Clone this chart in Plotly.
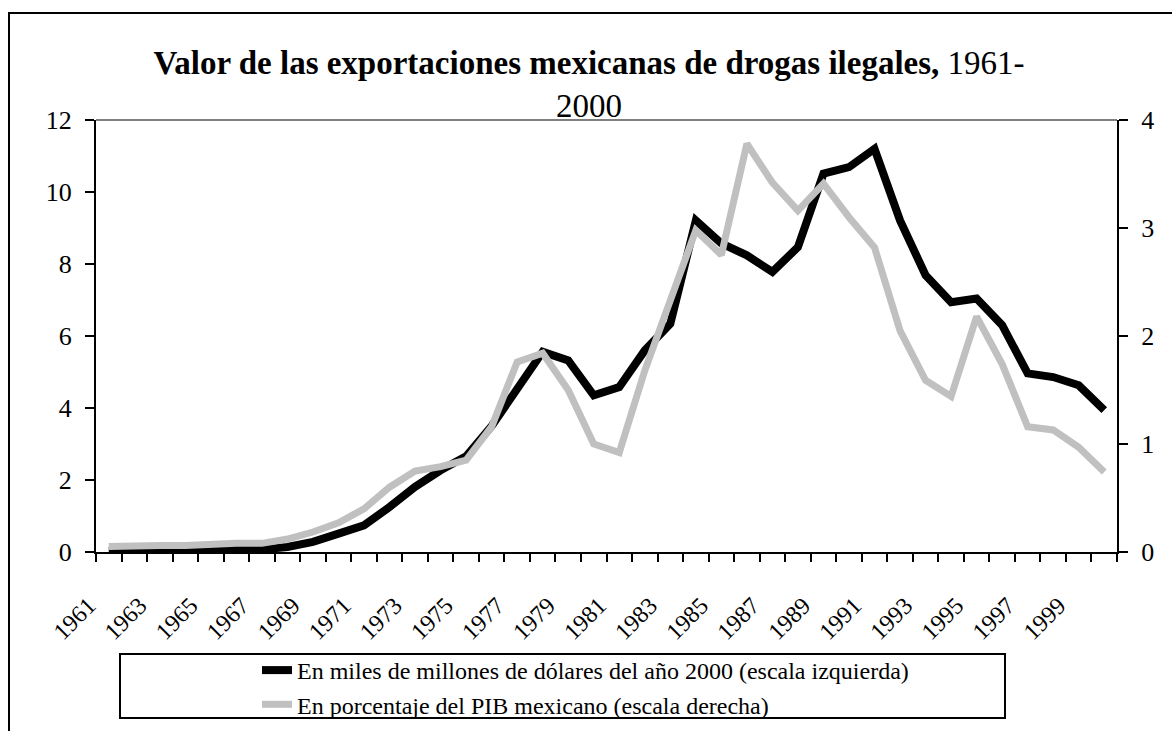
import plotly.graph_objects as go

# ---------------- data ----------------
years = list(range(1961, 2001))
valor_usd = [0.03, 0.04, 0.04, 0.04, 0.05, 0.06, 0.07, 0.14, 0.28, 0.51,
             0.74, 1.25, 1.81, 2.27, 2.66, 3.50, 4.58, 5.56, 5.32, 4.35,
             4.58, 5.60, 6.34, 9.21, 8.57, 8.24, 7.78, 8.47, 10.51, 10.69,
             11.20, 9.21, 7.69, 6.94, 7.04, 6.30, 4.96, 4.86, 4.63, 3.94]
pct_pib = [0.05, 0.06, 0.06, 0.06, 0.075, 0.08, 0.08, 0.12, 0.185, 0.27,
           0.40, 0.60, 0.75, 0.79, 0.85, 1.16, 1.76, 1.84, 1.50, 1.00,
           0.92, 1.68, 2.33, 2.98, 2.75, 3.78, 3.42, 3.16, 3.41, 3.10,
           2.82, 2.05, 1.59, 1.44, 2.18, 1.74, 1.16, 1.13, 0.97, 0.74]
name_usd = "En miles de millones de dólares del año 2000 (escala izquierda)"
name_pib = "En porcentaje del PIB mexicano (escala derecha)"
label_years = [y for y in years if y % 2 == 1]
left_ticks = [0, 2, 4, 6, 8, 10, 12]
right_ticks = [0, 1, 2, 3, 4]

# ---------------- layout geometry ----------------
W, H = 1172, 731
L, R, T, B = 96, 1117, 120, 552
FONT = "Liberation Serif, Times New Roman, serif"


def px_x(p):
    return (p - L) / (R - L)


def px_y(p):
    return (B - p) / (B - T)


boundaries = [years[0] - 0.5 + i for i in range(len(years) + 1)]
xrange_ = [years[0] - 0.5, years[-1] + 0.5]

fig = go.Figure()
fig.add_trace(go.Scatter(x=years, y=valor_usd, name=name_usd, mode="lines",
                         line=dict(color="#000000", width=8), yaxis="y"))
fig.add_trace(go.Scatter(x=years, y=pct_pib, name=name_pib, mode="lines",
                         line=dict(color="#C0C0C0", width=7), yaxis="y2"))

axis_common = dict(showgrid=False, zeroline=False, color="black")

fig.update_layout(
    width=W, height=H,
    margin=dict(l=L, r=W - R, t=T, b=H - B, pad=0, autoexpand=False),
    paper_bgcolor="white", plot_bgcolor="white",
    font=dict(family=FONT, color="black"),
    title=dict(
        text="<b>Valor de las exportaciones mexicanas de drogas ilegales,</b> 1961-<br>2000",
        font=dict(family=FONT, size=33, color="black"),
        x=589 / W, xref="container", xanchor="center",
        y=1 - 74 / H, yref="container", yanchor="top",
    ),
    xaxis=dict(
        range=xrange_, tickmode="array", tickvals=label_years,
        ticktext=[str(y) for y in label_years], ticks="", tickangle=-45,
        tickfont=dict(family=FONT, size=24, color="black"),
        ticklabelstandoff=28, ticklabelshift=-20,
        showline=True, linecolor="black", linewidth=2,
        minor=dict(tickmode="array", tickvals=boundaries, ticks="outside",
                   ticklen=8, tickwidth=2, tickcolor="black", showgrid=False),
        **axis_common),
    xaxis2=dict(
        range=xrange_, overlaying="x", anchor="y", side="bottom",
        tickmode="array", tickvals=boundaries, ticks="inside", ticklen=10,
        tickwidth=2, tickcolor="black", showticklabels=False, showline=False,
        **axis_common),
    yaxis=dict(
        range=[0, 12], tickmode="array", tickvals=left_ticks, ticks="outside",
        ticklen=9, tickwidth=2, tickcolor="black",
        tickfont=dict(family=FONT, size=26, color="black"),
        ticklabelstandoff=8,
        showline=True, linecolor="black", linewidth=2, **axis_common),
    yaxis3=dict(
        range=[0, 12], overlaying="y", side="left", anchor="x",
        tickmode="array", tickvals=left_ticks, ticks="inside", ticklen=8,
        tickwidth=2, tickcolor="black", showticklabels=False, showline=False,
        **axis_common),
    yaxis2=dict(
        range=[0, 4], overlaying="y", side="right", anchor="x",
        tickmode="array", tickvals=right_ticks, ticks="outside", ticklen=9,
        tickwidth=2, tickcolor="black",
        tickfont=dict(family=FONT, size=26, color="black"),
        ticklabelstandoff=8,
        showline=True, linecolor="black", linewidth=2, **axis_common),
    yaxis4=dict(
        range=[0, 4], overlaying="y", side="right", anchor="x",
        tickmode="array", tickvals=right_ticks, ticks="inside", ticklen=8,
        tickwidth=2, tickcolor="black", showticklabels=False, showline=False,
        **axis_common),
    legend=dict(
        x=px_x(257), y=px_y(648), xanchor="left", yanchor="top",
        xref="paper", yref="paper",
        font=dict(family=FONT, size=24, color="black"),
        bgcolor="rgba(0,0,0,0)", borderwidth=0, traceorder="normal",
        itemwidth=30,
    ),
    showlegend=True,
    shapes=[
        # chart-area border (extends beyond the visible page on right/bottom)
        dict(type="rect", xref="paper", yref="paper",
             x0=px_x(9), x1=px_x(1190), y0=px_y(760), y1=px_y(13),
             line=dict(color="black", width=2), layer="below"),
        # top border of plot area
        dict(type="line", xref="paper", yref="paper", x0=0, x1=1, y0=1, y1=1,
             line=dict(color="#808080", width=2), layer="below"),
        # legend box
        dict(type="rect", xref="paper", yref="paper",
             x0=px_x(120), x1=px_x(1005), y0=px_y(718), y1=px_y(654),
             line=dict(color="black", width=2), layer="below"),
    ],
)

fig.write_html("out.html")
